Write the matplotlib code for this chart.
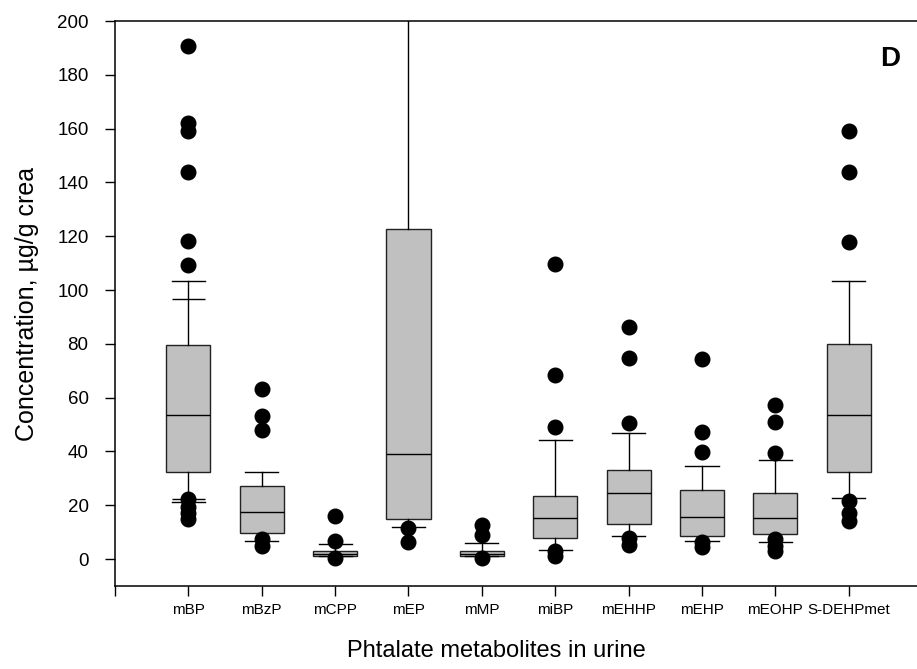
import matplotlib
matplotlib.use("Agg")
import matplotlib.pyplot as plt

plt.rcParams['font.family'] = ['Liberation Sans', 'DejaVu Sans']

# values (ug/g creatinine)
labels = ["mBP", "mBzP", "mCPP", "mEP", "mMP", "miBP", "mEHHP", "mEHP", "mEOHP", "S-DEHPmet"]
medians = [53.7, 17.4, 2.0, 39.2, 2.0, 15.3, 24.6, 15.5, 15.3, 53.7]
q1 = [32.4, 9.8, 1.2, 14.8, 1.1, 7.9, 13.1, 8.4, 9.4, 32.3]
q3 = [79.5, 27.2, 3.1, 122.8, 3.1, 23.3, 33.1, 25.7, 24.7, 79.8]
whislo = [21.4, 6.8, 1.0, 12.0, 1.0, 3.5, 8.7, 6.7, 6.2, 22.6]
whishi = [103.3, 32.3, 5.6, 260.0, 5.8, 44.2, 46.8, 34.6, 36.7, 103.5]
fliers = [
    [190.8, 162.0, 159.2, 143.9, 118.1, 109.2, 22.3, 19.2, 17.3, 14.8],
    [63.3, 53.2, 48.0, 7.4, 4.9],
    [16.1, 6.8, 0.3],
    [11.7, 6.2],
    [12.6, 9.0, 0.5],
    [109.5, 68.3, 49.1, 3.1, 1.2],
    [86.2, 74.6, 50.7, 8.0, 5.3],
    [74.2, 47.4, 39.8, 6.3, 4.5],
    [57.1, 50.9, 39.6, 7.4, 5.0, 3.0],
    [159.2, 143.9, 118.0, 21.6, 17.3, 14.2],
]
# mBP shows a second pair of whisker caps
mbp_extra_caps = [96.8, 22.3]

stats = []
for i in range(len(labels)):
    stats.append(dict(med=medians[i], q1=q1[i], q3=q3[i],
                      whislo=whislo[i], whishi=whishi[i], fliers=fliers[i]))

fig = plt.figure(figsize=(9.17, 6.69), dpi=100)
ax = fig.add_axes([0.1254, 0.1241, 0.8746, 0.8445])

pos = list(range(1, len(labels) + 1))
ax.bxp(stats, positions=pos, widths=0.6, capwidths=0.45, patch_artist=True,
       showfliers=True,
       boxprops=dict(facecolor="#c0c0c0", edgecolor="#222222", linewidth=1.0),
       medianprops=dict(color="black", linewidth=1.0),
       whiskerprops=dict(color="black", linewidth=1.0),
       capprops=dict(color="black", linewidth=1.0),
       flierprops=dict(marker="o", markerfacecolor="black", markeredgecolor="black",
                       markersize=10.5, linestyle="none"))

ax.hlines(mbp_extra_caps, pos[0] - 0.225, pos[0] + 0.225, color="black", linewidth=1.0)

ax.set_xlim(0, 10.93)
ax.set_ylim(-10, 200)
ax.set_yticks(range(0, 201, 20))
ax.set_xticks(range(0, 11))
ax.set_xticklabels([""] + labels, fontsize=11)
ax.tick_params(axis="y", direction="out", length=7, width=1.0, labelsize=13.5, pad=12)
ax.tick_params(axis="x", direction="out", length=7, width=1.0, pad=5)
ax.spines["right"].set_visible(False)
for s in ["left", "bottom", "top"]:
    ax.spines[s].set_linewidth(1.1)

ax.set_ylabel("Concentration, µg/g crea", fontsize=18, labelpad=13)
ax.set_xlabel("Phtalate metabolites in urine", fontsize=17, labelpad=18)
ax.xaxis.set_label_coords(0.476, -0.095)
ax.text(10.56, 186, "D", fontsize=20, fontweight="bold", ha="center", va="center")

fig.savefig("out.png", dpi=100)
